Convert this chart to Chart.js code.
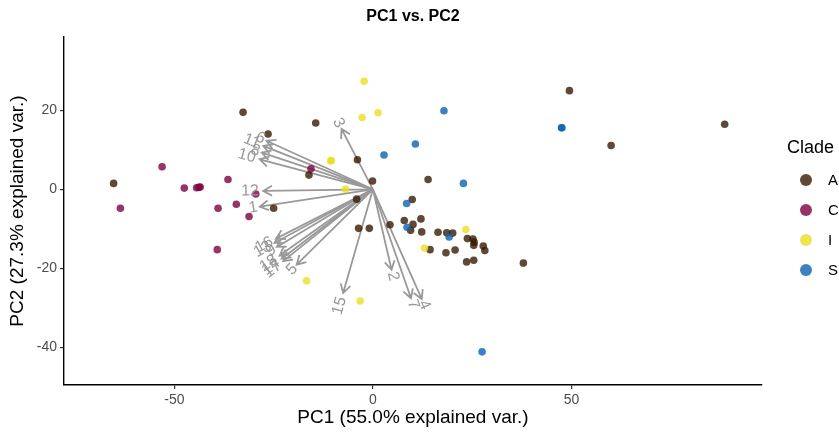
<!DOCTYPE html>
<html>
<head>
<meta charset="utf-8">
<script src="https://cdn.jsdelivr.net/npm/chart.js@4.4.0/dist/chart.umd.min.js"></script>
<style>
  html, body { margin: 0; padding: 0; background: #fff; }
  #wrap { width: 839px; height: 434px; }
</style>
</head>
<body>
<div id="wrap"><canvas id="pcaChart" width="839" height="434"></canvas></div>
<script>
//==================================================== Data ====================

var cladeNames = ['A', 'C', 'I', 'S'];
var cladeColors = ['rgba(55,28,2,0.8)', 'rgba(125,0,65,0.8)', 'rgba(236,221,36,0.8)', 'rgba(11,99,180,0.8)'];

var cladeA_x = [-65.3, -32.7, -26.4, -14.4, -16.1, -3.9, -0.1, -4.1, -25.0, -3.6, -0.9, 4.3, 49.5, 13.9, 9.9, 7.9, 12.1, 10.1, 9.5, 12.3,
    16.4, 18.6, 20.1, 23.8, 25.2, 25.5, 25.4, 27.8, 28.2, 14.4, 18.4, 20.7, 23.6, 25.4, 37.9, 60.0, 88.6];
var cladeA_y = [1.5, 19.5, 14.0, 16.8, 3.6, 7.5, 2.1, -2.5, -4.8, -9.9, -9.9, -9.0, 25.0, 2.5, -2.6, -7.9, -7.5, -8.9, -10.4, -10.8,
    -10.9, -11.0, -11.1, -12.5, -12.6, -13.4, -14.2, -14.4, -15.5, -15.3, -16.1, -15.4, -18.4, -18.0, -18.7, 11.1, 16.5];

var cladeC_x = [-53.1, -63.6, -47.5, -44.4, -43.8, -43.5, -36.5, -39.0, -34.4, -29.5, -31.2, -39.2, -15.6];
var cladeC_y = [5.7, -4.8, 0.3, 0.4, 0.5, 0.6, 2.5, -4.8, -3.8, -1.2, -6.9, -15.3, 5.2];

var cladeI_x = [-2.2, 1.3, -2.7, -10.6, -10.5, -6.9, 23.4, 13.0, -16.7, -3.2];
var cladeI_y = [27.4, 19.4, 18.2, 7.2, 7.3, 0.0, -10.2, -14.9, -23.2, -28.3];

var cladeS_x = [17.9, 10.7, 2.8, 22.8, 8.5, 8.6, 19.2, 27.5, 47.5, 47.6];
var cladeS_y = [19.9, 11.5, 8.7, 1.5, -3.6, -9.6, -12.1, -41.2, 15.6, 15.6];

// variable loadings (arrow tips)
var loadingNames = ['1', '2', '3', '4', '5', '7', '12', '15', '6', '11', '8', '10', '16', '13', '9', '18', '14', '17'];
var loadingX = [-28.5, 4.7, -7.9, 12.3, -19.2, 9.6, -27.6, -7.5, -26.8, -27.6, -28.0, -28.5, -24.4, -24.8, -24.2, -23.5, -23.0, -22.6];
var loadingY = [-4.4, -20.4, 15.3, -27.8, -19.1, -27.6, -0.4, -26.3, 12.3, 11.0, 9.3, 7.6, -12.5, -13.6, -14.6, -16.8, -17.6, -18.2];

var xTicks = [-50, 0, 50];
var yTicks = [-40, -20, 0, 20];

var fontFam = '"Liberation Sans", Arial, Helvetica, sans-serif';
var arrowColor = '#999999';

//==================================================== Helpers =================

function toPoints(xs, ys) {
    return xs.map(function(v, i) {
        return { x: v, y: ys[i] };
    });
}

var cladeX = [cladeA_x, cladeC_x, cladeI_x, cladeS_x];
var cladeY = [cladeA_y, cladeC_y, cladeI_y, cladeS_y];

var datasets = cladeNames.map(function(name, i) {
    return {
        label: name,
        data: toPoints(cladeX[i], cladeY[i]),
        backgroundColor: cladeColors[i],
        borderColor: cladeColors[i],
        borderWidth: 0,
        pointRadius: 3.8,
        pointHoverRadius: 3.8,
        order: cladeNames.length - i
    };
});

//==================================================== Plugins =================

var biplotArrows = {
    id: 'biplotArrows',
    beforeDatasetsDraw: function(chart) {
        var ctx = chart.ctx, xs = chart.scales.x, ys = chart.scales.y;
        var x0 = xs.getPixelForValue(0), y0 = ys.getPixelForValue(0);
        var head = 10, spread = 0.52;
        ctx.save();
        ctx.strokeStyle = arrowColor;
        ctx.lineWidth = 1.8;
        for (var i = 0; i < loadingNames.length; i++) {
            var x1 = xs.getPixelForValue(loadingX[i]);
            var y1 = ys.getPixelForValue(loadingY[i]);
            var a = Math.atan2(y1 - y0, x1 - x0);
            ctx.beginPath();
            ctx.moveTo(x0, y0);
            ctx.lineTo(x1, y1);
            ctx.moveTo(x1 - head * Math.cos(a - spread), y1 - head * Math.sin(a - spread));
            ctx.lineTo(x1, y1);
            ctx.lineTo(x1 - head * Math.cos(a + spread), y1 - head * Math.sin(a + spread));
            ctx.stroke();
        }
        ctx.restore();
    },
    afterDatasetsDraw: function(chart) {
        var ctx = chart.ctx, xs = chart.scales.x, ys = chart.scales.y;
        ctx.save();
        ctx.fillStyle = arrowColor;
        ctx.font = '16px ' + fontFam;
        ctx.textAlign = 'left';
        ctx.textBaseline = 'middle';
        for (var i = 0; i < loadingNames.length; i++) {
            var x1 = xs.getPixelForValue(loadingX[i]);
            var y1 = ys.getPixelForValue(loadingY[i]);
            var ang = Math.atan(loadingY[i] / loadingX[i]);
            var w = ctx.measureText(loadingNames[i]).width;
            var hj = loadingX[i] < 0 ? 1.25 : -0.25;
            ctx.save();
            ctx.translate(x1, y1);
            ctx.rotate(-ang);
            ctx.fillText(loadingNames[i], -hj * w, 0);
            ctx.restore();
        }
        ctx.restore();
    },
    afterDraw: function(chart) {
        var ctx = chart.ctx, area = chart.chartArea;
        ctx.save();
        // title
        ctx.fillStyle = '#000';
        ctx.font = 'bold 16px ' + fontFam;
        ctx.textAlign = 'center';
        ctx.textBaseline = 'middle';
        ctx.fillText('PC1 vs. PC2', (area.left + area.right) / 2, 17);

        // legend
        ctx.textAlign = 'left';
        ctx.font = '18px ' + fontFam;
        ctx.fillText('Clade', 787, 148);
        ctx.font = '15px ' + fontFam;
        for (var i = 0; i < cladeNames.length; i++) {
            var ly = 180 + i * 30;
            ctx.beginPath();
            ctx.arc(806, ly, 6, 0, Math.PI * 2);
            ctx.fillStyle = cladeColors[i];
            ctx.fill();
            ctx.fillStyle = '#000';
            ctx.fillText(cladeNames[i], 828, ly + 1);
        }
        ctx.restore();
    }
};

//==================================================== Chart ===================

var chrt = document.getElementById('pcaChart').getContext('2d');
var config = {
    type: 'scatter',
    data: { datasets: datasets },
    options: {
        responsive: false,
        animation: false,
        layout: { padding: { top: 37, right: 77, left: 0, bottom: 0 } },
        plugins: {
            legend: { display: false },
            title: { display: false },
            tooltip: { enabled: false }
        },
        scales: {
            x: {
                type: 'linear',
                min: -77.8,
                max: 98,
                afterBuildTicks: function(s) {
                    s.ticks = xTicks.map(function(v) { return { value: v }; });
                },
                afterFit: function(s) { s.height = 49; },
                grid: { drawOnChartArea: false, drawTicks: true, tickLength: 4, color: '#333', lineWidth: 1.2 },
                border: { display: true, color: '#000', width: 1.4 },
                ticks: { color: '#4d4d4d', font: { family: fontFam, size: 14 }, padding: 3, maxRotation: 0 },
                title: {
                    display: true,
                    text: 'PC1 (55.0% explained var.)',
                    color: '#000',
                    font: { family: fontFam, size: 19 },
                    padding: { top: 0, bottom: 5 }
                }
            },
            y: {
                type: 'linear',
                min: -49.6,
                max: 38.6,
                afterBuildTicks: function(s) {
                    s.ticks = yTicks.map(function(v) { return { value: v }; });
                },
                afterFit: function(s) { s.width = 64; },
                grid: { drawOnChartArea: false, drawTicks: true, tickLength: 4, color: '#333', lineWidth: 1.2 },
                border: { display: true, color: '#000', width: 1.4 },
                ticks: { color: '#4d4d4d', font: { family: fontFam, size: 14 }, padding: 3 },
                title: {
                    display: true,
                    text: 'PC2 (27.3% explained var.)',
                    color: '#000',
                    font: { family: fontFam, size: 19 },
                    padding: { top: 6, bottom: 0 }
                }
            }
        }
    },
    plugins: [biplotArrows]
};

var pcaChart = new Chart(chrt, config);
</script>
</body>
</html>
